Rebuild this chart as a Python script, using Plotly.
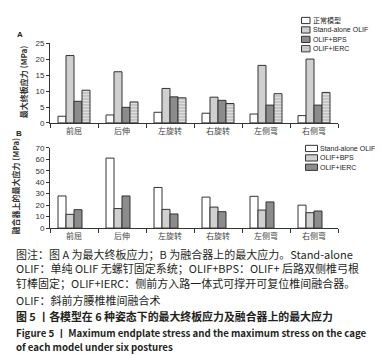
import plotly.graph_objects as go

# ---------------- data ----------------
categories = ["前屈", "后伸", "左旋转", "右旋转", "左侧弯", "右侧弯"]

a_series = ["正常模型", "Stand-alone OLIF", "OLIF+BPS", "OLIF+IERC"]
a_normal = [2.1, 2.5, 3.35, 3.05, 2.8, 2.3]
a_standalone = [21.2, 16.1, 10.85, 8.1, 18.1, 20.1]
a_bps = [6.8, 4.9, 8.2, 7.1, 5.6, 5.6]
a_ierc = [10.3, 6.6, 7.9, 6.1, 9.2, 9.6]

b_series = ["Stand-alone OLIF", "OLIF+BPS", "OLIF+IERC"]
b_standalone = [28, 61, 35.4, 27, 27.7, 20]
b_bps = [12, 17, 16.3, 18.3, 15.7, 13.4]
b_ierc = [16, 28, 12.3, 14.3, 22.8, 14.9]

a_ticks = [0, 5, 10, 15, 20, 25]
b_ticks = [0, 10, 20, 30, 40, 50, 60, 70]

caption_lines = [
    "图注：图 A 为最大终板应力；B 为融合器上的最大应力。Stand-alone",
    "OLIF：单纯 OLIF 无螺钉固定系统；OLIF+BPS：OLIF+ 后路双侧椎弓根",
    "钉棒固定；OLIF+IERC：侧前方入路一体式可撑开可复位椎间融合器。",
    "OLIF：斜前方腰椎椎间融合术",
]
title_lines = [
    "图 5 丨各模型在 6 种姿态下的最大终板应力及融合器上的最大应力",
    "Figure 5 丨 Maximum endplate stress and the maximum stress on the cage",
    "of each model under six postures",
]

# ---------------- geometry helpers ----------------
W, H = 383, 355
def px(x):
    return x / W
def py(y):
    return 1 - y / H

EDGE = "#333333"
WHITE = "#ffffff"
LIGHT = "#d0d0d0"
DARK = "#8c8c8c"
STRIPE_BG = "#ececec"
STRIPE_FG = "#a9a9a9"

fig = go.Figure()

def add_bar(y, name, color, xaxis, yaxis, pattern=None):
    marker = dict(color=color, line=dict(color=EDGE, width=1))
    if pattern:
        marker["pattern"] = pattern
    fig.add_trace(go.Bar(x=categories, y=y, name=name, marker=marker,
                         xaxis=xaxis, yaxis=yaxis, showlegend=False,
                         offsetgroup=name + xaxis))

stripe = dict(shape="-", fgcolor=STRIPE_FG, bgcolor=STRIPE_BG, size=3, solidity=0.45, fillmode="replace")

# Panel A
add_bar(a_normal, a_series[0], WHITE, "x", "y")
add_bar(a_standalone, a_series[1], LIGHT, "x", "y")
add_bar(a_bps, a_series[2], DARK, "x", "y")
add_bar(a_ierc, a_series[3], STRIPE_BG, "x", "y", pattern=stripe)

# Panel B (fourth slot empty as in the original)
add_bar(b_standalone, b_series[0], WHITE, "x2", "y2")
add_bar(b_bps, b_series[1], LIGHT, "x2", "y2")
add_bar(b_ierc, b_series[2], DARK, "x2", "y2")
fig.add_trace(go.Bar(x=categories, y=[None] * len(categories), name="empty",
                     xaxis="x2", yaxis="y2", showlegend=False, offsetgroup="emptyx2"))

tickfont = dict(family="Liberation Sans, Arial", size=8, color="#333333")
catfont = dict(family="Noto Sans CJK SC", size=8, color="#444444")

xdom = [px(42), px(330)]
common_x = dict(type="category", showline=True, linecolor=EDGE, linewidth=1,
                ticks="outside", ticklen=4, tickcolor=EDGE, tickson="boundaries",
                showgrid=False, tickfont=catfont, domain=xdom, fixedrange=True)
common_y = dict(showline=True, linecolor=EDGE, linewidth=1, ticks="outside",
                ticklen=3, tickcolor=EDGE, showgrid=False, zeroline=False,
                tickfont=tickfont, fixedrange=True)

fig.update_layout(
    width=W, height=H,
    margin=dict(l=0, r=0, t=0, b=0),
    paper_bgcolor="white", plot_bgcolor="white",
    barmode="group", bargap=1/3, bargroupgap=0,
    showlegend=False,
    xaxis=dict(**common_x, anchor="y"),
    yaxis=dict(**common_y, anchor="x", range=[0, 25], tickvals=a_ticks,
               domain=[py(113.8), py(32.3)]),
    xaxis2=dict(**common_x, anchor="y2"),
    yaxis2=dict(**common_y, anchor="x2", range=[0, 70], tickvals=b_ticks,
                domain=[py(221.7), py(139.3)]),
)

annotations = []
shapes = []

def ann(text, x, y, size, family="Noto Sans CJK SC", color="#231f20", angle=0,
        xanchor="left", yanchor="middle", bold=False, align="left"):
    annotations.append(dict(text=("<b>%s</b>" % text) if bold else text,
                            x=px(x), y=py(y), xref="paper", yref="paper",
                            showarrow=False, xanchor=xanchor, yanchor=yanchor,
                            textangle=angle, align=align,
                            font=dict(family=family, size=size, color=color)))

# panel letters
ann("A", 7, 23, 8, family="Liberation Sans", bold=True)
ann("B", 6, 125, 8, family="Liberation Sans", bold=True)

# y-axis titles
ann("最大终板应力 (MPa)", 15, 72, 8, color="#333333", angle=-90, xanchor="center", bold=True)
ann("融合器上的最大应力 (MPa)", 7, 179, 8, color="#333333", angle=-90, xanchor="center", bold=True)

# legends (drawn manually)
def legend(names, fills, x0, x1, ys, striped_idx=None, text_x=None):
    for i, (nm, fc, yc) in enumerate(zip(names, fills, ys)):
        shapes.append(dict(type="rect", xref="paper", yref="paper",
                           x0=px(x0), x1=px(x1), y0=py(yc + 3.2), y1=py(yc - 3.2),
                           fillcolor=fc, line=dict(color=EDGE, width=1)))
        if striped_idx is not None and i == striped_idx:
            for dy in (-1.6, 0, 1.6):
                shapes.append(dict(type="line", xref="paper", yref="paper",
                                   x0=px(x0 + 0.5), x1=px(x1 - 0.5),
                                   y0=py(yc + dy), y1=py(yc + dy),
                                   line=dict(color=STRIPE_FG, width=0.8)))
        fam = "Noto Sans CJK SC" if nm == "正常模型" else "Liberation Sans"
        ann(nm, text_x, yc, 7, family=fam, color="#222222")

legend(a_series, [WHITE, LIGHT, DARK, STRIPE_BG], 293.5, 302, [8.7, 18.4, 28.1, 37.7],
       striped_idx=3, text_x=303)
legend(b_series, [WHITE, LIGHT, DARK], 297.5, 309.5, [140, 149.7, 159.3], text_x=310)

# caption: first three lines as one multi-line block, then the last line
ann("<br>".join(caption_lines[:3]), 6, 263.5, 11.0, color="#231f20")
ann(caption_lines[3], 6, 295, 11.0, color="#231f20")
title_y = [312.3, 329, 343.3]
title_sizes = [10.9, 9.7, 9.7]
for t, y, s in zip(title_lines, title_y, title_sizes):
    ann(t, 6, y, s, color="#231f20", bold=True)

fig.update_layout(annotations=annotations, shapes=shapes)
fig.write_html("out.html")
